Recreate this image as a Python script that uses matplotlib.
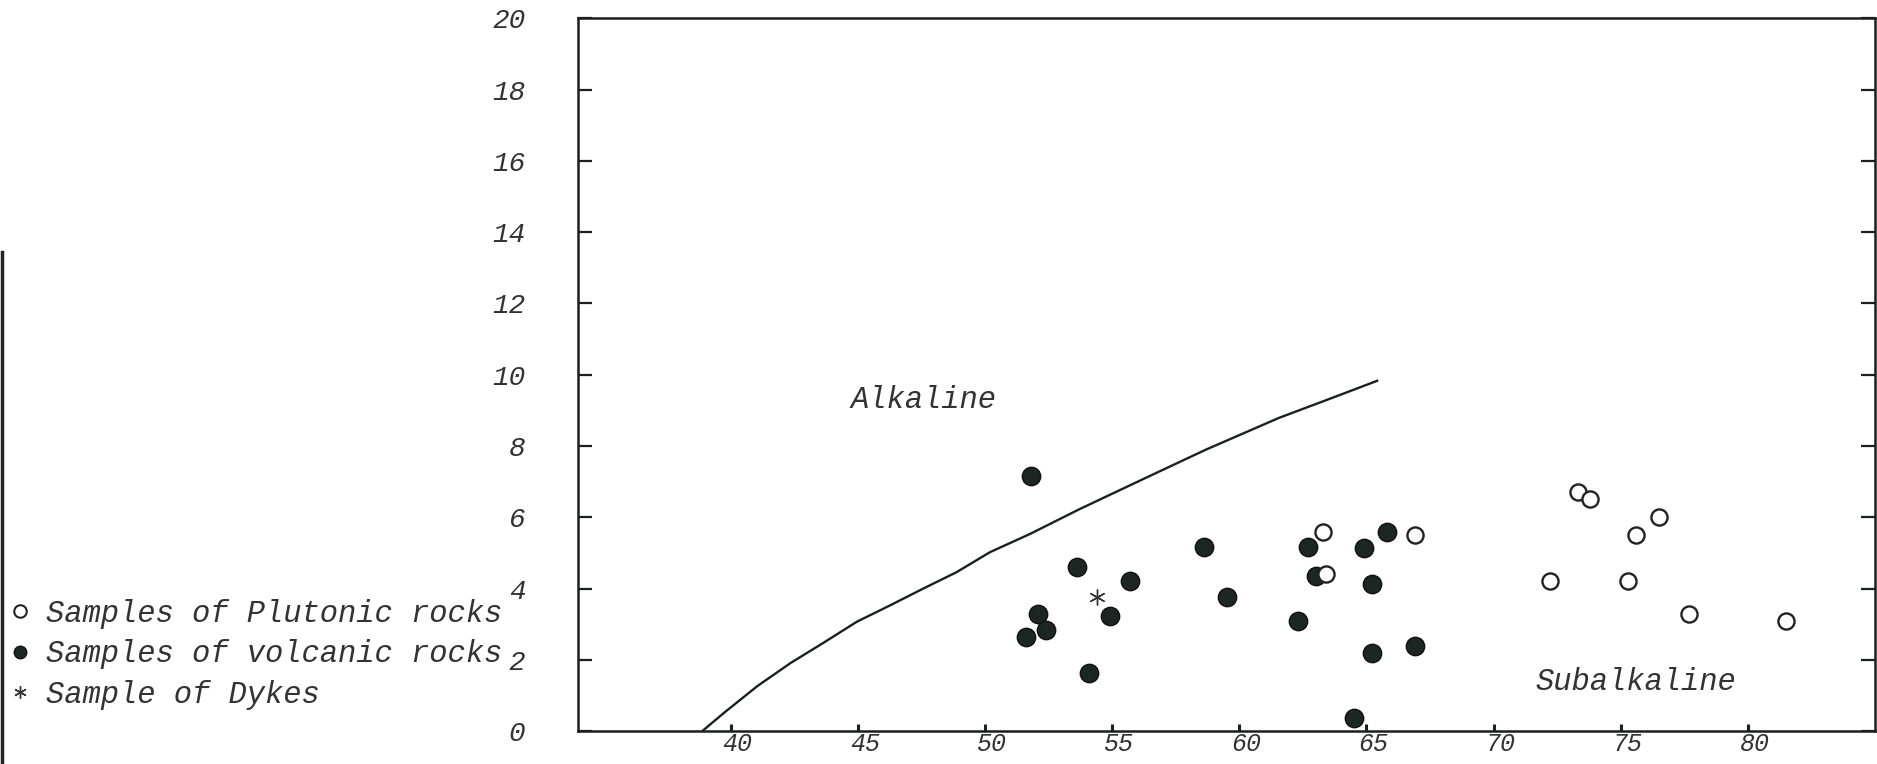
import numpy as np
import matplotlib
matplotlib.use("Agg")
import matplotlib.pyplot as plt
from matplotlib.lines import Line2D
from matplotlib.transforms import ScaledTranslation

# SiO2 (wt%) vs Na2O + K2O (wt%)
plutonic_x = [63.3, 66.9, 63.4, 73.3, 73.8, 76.5, 75.6, 72.2, 75.3, 77.7, 81.5]
plutonic_y = [5.6, 5.5, 4.4, 6.7, 6.5, 6.0, 5.5, 4.2, 4.2, 3.3, 3.1]

volcanic_x = [51.8, 51.6, 52.1, 52.4, 53.6, 54.1, 54.9, 55.7, 58.6, 59.5,
              62.3, 62.7, 63.0, 64.9, 65.2, 65.8, 65.2, 66.9, 64.5]
volcanic_y = [7.15, 2.65, 3.3, 2.85, 4.6, 1.62, 3.23, 4.2, 5.17, 3.77,
              3.08, 5.17, 4.35, 5.14, 4.13, 5.6, 2.18, 2.4, 0.38]

dyke_x = [54.4]
dyke_y = [3.75]

# alkaline / subalkaline dividing line
boundary_x = [38.88, 39.73, 41.04, 42.35, 43.65, 44.96, 46.27, 47.57, 48.88,
              50.19, 51.76, 53.72, 56.33, 58.69, 61.56, 63.5, 65.42]
boundary_y = [0.0, 0.51, 1.26, 1.91, 2.48, 3.07, 3.53, 4.0, 4.46,
              5.02, 5.53, 6.23, 7.11, 7.9, 8.79, 9.31, 9.83]

xticks = [40, 45, 50, 55, 60, 65, 70, 75, 80]
yticks = [0, 2, 4, 6, 8, 10, 12, 14, 16, 18, 20]

font = {"family": "Liberation Mono", "style": "italic"}
ink = "#1b1f1d"
grey = "#333333"

fig = plt.figure(figsize=(18.77, 7.64), dpi=100)
ax = fig.add_axes([0.308, 0.043, 0.691, 0.933])

ax.plot(boundary_x, boundary_y, color=ink, lw=1.7)

ax.scatter(volcanic_x, volcanic_y, s=175, color="#1c2622", edgecolor="#111",
           linewidth=1.0, zorder=3)
ax.scatter(plutonic_x, plutonic_y, s=135, facecolor="white", edgecolor="#222",
           linewidth=1.7, zorder=3)
ax.scatter(dyke_x, dyke_y, s=120, marker=(6, 2, 0), color=grey,
           linewidth=1.0, zorder=3)

ax.text(47.6, 9.3, "Alkaline", fontsize=22, color=grey, ha="center", va="center", **font)
ax.text(75.6, 1.37, "Subalkaline", fontsize=22, color=grey, ha="center", va="center", **font)

ax.set_xlim(34, 85)
ax.set_ylim(0, 20)
ax.set_xticks(xticks)
ax.set_yticks(yticks)
ax.set_xticklabels([str(v) for v in xticks], fontsize=18, **font)
ax.set_yticklabels([str(v) for v in yticks], fontsize=20, **font)

ax.tick_params(axis="y", direction="in", length=10, width=1.6, pad=38,
               left=True, right=True, colors=ink, labelcolor=grey)
ax.tick_params(axis="x", direction="in", length=5, width=2.2, pad=0.5,
               colors=ink, labelcolor=grey)

# x labels sit a little right of their ticks in the original
shift = ScaledTranslation(0.07, 0, fig.dpi_scale_trans)
for lab in ax.get_xticklabels():
    lab.set_transform(lab.get_transform() + shift)

for sp in ax.spines.values():
    sp.set_linewidth(1.8)
    sp.set_color(ink)

# legend sits outside the frame, left of the y axis
handles = [
    Line2D([], [], ls="none", marker="o", ms=9, mfc="white", mec="#222", mew=1.5),
    Line2D([], [], ls="none", marker="o", ms=9, mfc="#1c2622", mec="#111"),
    Line2D([], [], ls="none", marker=(6, 2, 0), ms=9, color=grey),
]
labels = ["Samples of Plutonic rocks", "Samples of volcanic rocks", "Sample of Dykes"]
ax.legend(handles, labels, loc="upper left", bbox_to_anchor=(0.0, 0.228),
          bbox_transform=fig.transFigure, frameon=False, handlelength=0.7,
          handletextpad=0.5, labelspacing=0.34, borderaxespad=0, borderpad=0.3,
          prop={"family": "Liberation Mono", "style": "italic", "size": 22})
for t in ax.get_legend().get_texts():
    t.set_color(grey)

# scanner edge on the far left
fig.add_artist(Line2D([0.001, 0.001], [0.0, 0.67], transform=fig.transFigure,
                      color="#222", lw=2.5))

fig.savefig("out.png", dpi=100, facecolor="white")
